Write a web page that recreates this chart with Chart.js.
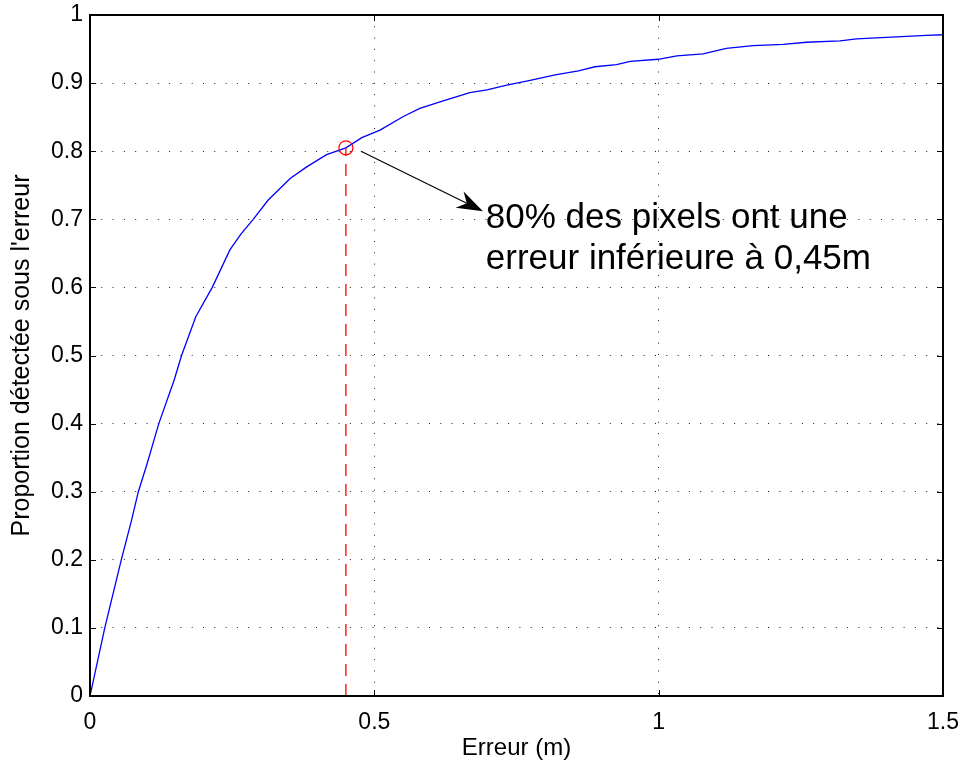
<!DOCTYPE html>
<html><head><meta charset="utf-8">
<script src="https://cdn.jsdelivr.net/npm/chart.js@4/dist/chart.umd.min.js"></script>
<style>html,body{margin:0;padding:0;background:#fff;overflow:hidden}#wrap{width:963px;height:765px}</style>
</head><body><div id="wrap"><canvas id="c" width="963" height="765"></canvas></div>
<script>
// ---- data ----
const errX = [0, 0.026, 0.055, 0.073, 0.085, 0.10, 0.121, 0.148, 0.161, 0.186, 0.215, 0.246, 0.265, 0.287, 0.313, 0.352, 0.381, 0.416, 0.45, 0.478, 0.51, 0.551, 0.58, 0.621, 0.668, 0.698, 0.733, 0.774, 0.818, 0.859, 0.888, 0.926, 0.95, 0.999, 1.032, 1.078, 1.119, 1.166, 1.219, 1.26, 1.319, 1.348, 1.418, 1.471, 1.5];
const propY = [0, 0.1, 0.2, 0.258, 0.3, 0.34, 0.4, 0.464, 0.5, 0.557, 0.6, 0.655, 0.678, 0.7, 0.728, 0.76, 0.777, 0.795, 0.805, 0.82, 0.831, 0.851, 0.863, 0.874, 0.886, 0.89, 0.897, 0.904, 0.912, 0.918, 0.924, 0.927, 0.932, 0.935, 0.94, 0.943, 0.951, 0.955, 0.957, 0.96, 0.962, 0.965, 0.968, 0.97, 0.971];
const markX = [0.45];
const markY = [0.805];
const xTickLabels = ['0', '0.5', '1', '1.5'];
const yTickLabels = ['0', '0.1', '0.2', '0.3', '0.4', '0.5', '0.6', '0.7', '0.8', '0.9', '1'];
const xTitle = 'Erreur (m)';
const yTitle = "Proportion détectée sous l'erreur";
const noteLines = ['80% des pixels ont une', 'erreur inférieure à 0,45m'];
// annotation anchor points in data units
const arrowFrom = [0.4765, 0.800];
const arrowTo = [0.691, 0.712];
const noteAt = [0.696, 0.687];

const FONT = "'Liberation Sans', Arial, Helvetica, sans-serif";
Chart.defaults.font.family = FONT;
Chart.defaults.color = '#000';

const framePlugin = {
  id: 'frame',
  afterDatasetsDraw(chart) {
    const ctx = chart.ctx, a = chart.chartArea;
    const xs = chart.scales.x, ys = chart.scales.y;
    ctx.save();
    // inward ticks on all four sides
    ctx.strokeStyle = '#000';
    ctx.lineWidth = 1;
    const tl = 6;
    ctx.beginPath();
    xs.ticks.forEach(t => {
      const px = Math.round(xs.getPixelForValue(t.value)) + 0.5;
      ctx.moveTo(px, a.bottom); ctx.lineTo(px, a.bottom - tl);
      ctx.moveTo(px, a.top); ctx.lineTo(px, a.top + tl);
    });
    ys.ticks.forEach(t => {
      const py = Math.round(ys.getPixelForValue(t.value)) + 0.5;
      ctx.moveTo(a.left, py); ctx.lineTo(a.left + tl, py);
      ctx.moveTo(a.right, py); ctx.lineTo(a.right - tl, py);
    });
    ctx.stroke();
    // box
    ctx.lineWidth = 2;
    ctx.strokeRect(a.left, a.top, a.right - a.left, a.bottom - a.top);
    // arrow
    const x0 = xs.getPixelForValue(arrowFrom[0]), y0 = ys.getPixelForValue(arrowFrom[1]);
    const x1 = xs.getPixelForValue(arrowTo[0]), y1 = ys.getPixelForValue(arrowTo[1]);
    const ang = Math.atan2(y1 - y0, x1 - x0);
    const hl = 26, hw = 9, notch = 18;
    const bx = x1 - hl * Math.cos(ang), by = y1 - hl * Math.sin(ang);
    const nx = x1 - notch * Math.cos(ang), ny = y1 - notch * Math.sin(ang);
    ctx.lineWidth = 1.2;
    ctx.beginPath();
    ctx.moveTo(x0, y0); ctx.lineTo(nx, ny);
    ctx.stroke();
    ctx.fillStyle = '#000';
    ctx.beginPath();
    ctx.moveTo(x1, y1);
    ctx.lineTo(bx + hw * Math.sin(ang), by - hw * Math.cos(ang));
    ctx.lineTo(nx, ny);
    ctx.lineTo(bx - hw * Math.sin(ang), by + hw * Math.cos(ang));
    ctx.closePath();
    ctx.fill();
    // note text
    ctx.font = '35px ' + FONT;
    ctx.textAlign = 'left';
    ctx.textBaseline = 'alphabetic';
    const tx = xs.getPixelForValue(noteAt[0]), ty = ys.getPixelForValue(noteAt[1]);
    noteLines.forEach((s, i) => ctx.fillText(s, tx, ty + i * 41));
    ctx.restore();
  }
};

new Chart(document.getElementById('c'), {
  type: 'line',
  data: {
    datasets: [
      {
        data: markX.map((x, i) => ({x, y: markY[i]})),
        showLine: false,
        pointRadius: 7,
        pointStyle: 'circle',
        pointBorderColor: '#ff0000',
        pointBackgroundColor: 'rgba(0,0,0,0)',
        pointBorderWidth: 1.2
      },
      {
        data: [{x: markX[0], y: 0}, {x: markX[0], y: markY[0]}],
        borderColor: '#ff0000',
        borderWidth: 1.3,
        borderDash: [12, 8],
        pointRadius: 0
      },
      {
        data: errX.map((x, i) => ({x, y: propY[i]})),
        borderColor: '#0000ff',
        borderWidth: 1.3,
        pointRadius: 0,
        tension: 0,
        fill: false
      }
    ]
  },
  options: {
    responsive: false,
    animation: false,
    devicePixelRatio: 1,
    layout: {padding: {left: 0, right: 20, top: 15, bottom: 0}},
    plugins: {legend: {display: false}, tooltip: {enabled: false}},
    scales: {
      x: {
        type: 'linear', min: 0, max: 1.5,
        afterFit(s) { s.height = 69; s.paddingLeft = 0; s.paddingRight = 0; },
        ticks: {stepSize: 0.5, autoSkip: false, maxRotation: 0, padding: 13,
          font: {size: 23}, color: '#000',
          callback: (v, i) => xTickLabels[i]},
        grid: {color: '#222', lineWidth: 1, drawTicks: false},
        border: {display: false, dash: [1, 10.3]},
        title: {display: true, text: xTitle, font: {size: 24}, color: '#000', padding: {top: 0, bottom: 2}}
      },
      y: {
        type: 'linear', min: 0, max: 1,
        afterFit(s) { s.width = 90; s.paddingTop = 0; s.paddingBottom = 0; },
        ticks: {stepSize: 0.1, autoSkip: false, padding: 7,
          font: {size: 23}, color: '#000',
          callback: (v, i) => yTickLabels[i]},
        grid: {color: '#222', lineWidth: 1, drawTicks: false},
        border: {display: false, dash: [1, 10.3]},
        title: {display: true, text: yTitle, font: {size: 25}, color: '#000', padding: {top: 7, bottom: 0}}
      }
    }
  },
  plugins: [framePlugin]
});
</script>
</body></html>
